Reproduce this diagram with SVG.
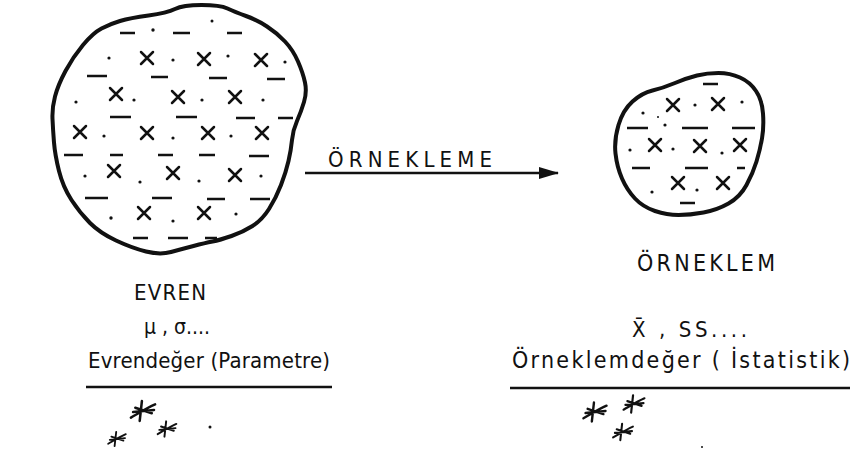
<svg xmlns="http://www.w3.org/2000/svg" xmlns:xlink="http://www.w3.org/1999/xlink" width="852" height="456" viewBox="0 0 852 456">
<style>
.bg{fill:#fff}
.blob{fill:none;stroke:#111;stroke-width:4;stroke-linejoin:round}
.mk{fill:none;stroke:#111;stroke-width:2.5;stroke-linecap:round}
.ds{fill:none;stroke:#111;stroke-width:2.6;stroke-linecap:butt}
.dt{fill:#111}
.ln{fill:none;stroke:#111;stroke-width:2.3}
.st{fill:none;stroke:#111;stroke-width:2.3;stroke-linecap:round;stroke-linejoin:round}
.t{font-family:"DejaVu Sans Condensed","DejaVu Sans","Liberation Sans",sans-serif;font-stretch:condensed;fill:#111}
</style>
<defs>
<path id="xm" d="M-6,-6 L6,6 M6,-6 L-6,6"/>
<path id="star" d="M-11,6 C-4,2 4,-3 11,-6 M-7,-3 L8,2 M-1,-9 L-3,9 M-9,1 L10,-1"/>
<marker id="ah" viewBox="0 0 20 12" refX="19" refY="6" markerWidth="20" markerHeight="12" markerUnits="userSpaceOnUse" orient="auto">
<path d="M0,0 L20,6 L0,12 Z" fill="#111"/>
</marker>
</defs>
<rect class="bg" x="0" y="0" width="852" height="456"/>

<g id="evren">
<path class="blob" d="M175,9 Q183,5 201.5,5 Q220,5 227.5,8.5 Q235,12 246,16 Q257,20 267,26.5 Q277,33 285,41.5 Q293,50 298,61.5 Q303,73 305,82.5 Q307,92 304,102 Q301,112 297,121 Q293,130 292,140 Q291,150 288.5,161 Q286,172 281,185 Q276,198 269,209 Q262,220 252.5,226 Q243,232 231.5,236 Q220,240 212.5,241.5 Q205,243 193.5,246 Q182,249 171,252 Q160,255 146,251.5 Q132,248 116,240.5 Q100,233 90,223 Q80,213 71.5,200 Q63,187 59,171 Q55,155 54,142.5 Q53,130 52.5,119 Q52,108 55,96.5 Q58,85 65.5,71 Q73,57 83,45 Q93,33 101.5,28.5 Q110,24 120,21 Q130,18 148.5,15.5 Q167,13 175,9 Z"/>
<g class="mk">
<use xlink:href="#xm" x="147" y="58"/><use xlink:href="#xm" x="204" y="59"/><use xlink:href="#xm" x="261" y="60"/>
<use xlink:href="#xm" x="116" y="94"/><use xlink:href="#xm" x="178" y="97"/><use xlink:href="#xm" x="235" y="97"/>
<use xlink:href="#xm" x="80" y="132"/><use xlink:href="#xm" x="147" y="133"/><use xlink:href="#xm" x="208" y="133"/><use xlink:href="#xm" x="262" y="133"/>
<use xlink:href="#xm" x="114" y="171"/><use xlink:href="#xm" x="173" y="173"/><use xlink:href="#xm" x="235" y="175"/>
<use xlink:href="#xm" x="144" y="213"/><use xlink:href="#xm" x="204" y="213"/>
</g>
<path class="ds" d="M120,33 H135 M173,33 H190 M227,33 H242 M87,76 H107 M151,77 H168 M209,78 H227 M267,79 H285 M110,117 H131 M176,117 H197 M236,118 H255 M278,118 H293 M64,155 H83 M110,155 H123 M158,155 H173 M199,155 H215 M249,156 H269 M85,198 H108 M152,198 H172 M207,199 H225 M250,199 H270 M133,238 H148 M168,238 H188 M205,238 H217"/>
<g class="dt">
<circle cx="153" cy="30" r="1.7"/><circle cx="212" cy="21" r="1.5"/>
<circle cx="109" cy="58" r="1.6"/><circle cx="173" cy="60" r="1.6"/><circle cx="228" cy="56" r="1.6"/><circle cx="285" cy="62" r="1.6"/>
<circle cx="76" cy="102" r="1.6"/><circle cx="134" cy="100" r="1.6"/><circle cx="202" cy="100" r="1.6"/><circle cx="263" cy="100" r="1.6"/>
<circle cx="104" cy="136" r="1.6"/><circle cx="173" cy="138" r="1.6"/><circle cx="231" cy="136" r="1.6"/>
<circle cx="85" cy="176" r="1.6"/><circle cx="140" cy="182" r="1.6"/><circle cx="199" cy="181" r="1.6"/><circle cx="261" cy="176" r="1.6"/>
<circle cx="111" cy="218" r="1.7"/><circle cx="173" cy="221" r="1.6"/><circle cx="236" cy="214" r="1.6"/>
</g>
<text class="t" x="134" y="300" font-size="22" textLength="72" lengthAdjust="spacing">EVREN</text>
<text class="t" x="144" y="334" font-size="21" textLength="66" lengthAdjust="spacing">μ , σ....</text>
<text class="t" x="88" y="368" font-size="22" textLength="242" lengthAdjust="spacing">Evrendeğer (Parametre)</text>
<path class="ln" d="M86,387 H332"/>
<g class="st">
<use xlink:href="#star" transform="translate(143,411) scale(1.1)"/>
<use xlink:href="#star" transform="translate(167,429) scale(0.85)"/>
<use xlink:href="#star" transform="translate(117,439) scale(0.8)"/>
</g>
<circle class="dt" cx="210" cy="427" r="1.5"/>
</g>

<g id="orneklem">
<path class="blob" d="M697,75.5 Q707,73 718.5,73 Q730,73 740,77.5 Q750,82 756,91 Q762,100 763,113.5 Q764,127 762,138.5 Q760,150 756.5,161.5 Q753,173 746.5,185 Q740,197 728.5,203.5 Q717,210 703.5,212.5 Q690,215 678.5,215 Q667,215 655,211 Q643,207 635,198.5 Q627,190 622,178.5 Q617,167 615.5,153.5 Q614,140 618.5,125 Q623,110 632.5,101.5 Q642,93 652.5,90.5 Q663,88 675,83 Q687,78 697,75.5 Z"/>
<g class="mk">
<use xlink:href="#xm" x="673" y="105"/><use xlink:href="#xm" x="718" y="104"/>
<use xlink:href="#xm" x="655" y="145"/><use xlink:href="#xm" x="700" y="146"/><use xlink:href="#xm" x="740" y="145"/>
<use xlink:href="#xm" x="678" y="183"/><use xlink:href="#xm" x="723" y="183"/>
</g>
<path class="ds" d="M703,84 H718 M627,128 H648 M682,128 H708 M732,128 H755 M632,168 H650 M685,168 H708 M737,168 H745 M680,203 H695"/>
<g class="dt">
<circle cx="643" cy="113" r="1.6"/><circle cx="658" cy="117" r="1"/><circle cx="695" cy="105" r="1.6"/><circle cx="742" cy="102" r="1.6"/><circle cx="665" cy="125" r="1.6"/>
<circle cx="630" cy="150" r="1.6"/><circle cx="673" cy="149" r="1.6"/><circle cx="722" cy="153" r="1.6"/>
<circle cx="652" cy="192" r="1.6"/><circle cx="697" cy="190" r="1.6"/>
</g>
<text class="t" x="637" y="271" font-size="23" textLength="138" lengthAdjust="spacing">ÖRNEKLEM</text>
<text class="t" x="632" y="337" font-size="22" textLength="115" lengthAdjust="spacing">X̄ , SS....</text>
<text class="t" x="512" y="368" font-size="23" textLength="338" lengthAdjust="spacing">Örneklemdeğer ( İstatistik)</text>
<path class="ln" d="M510,388 H850"/>
<g class="st">
<use xlink:href="#star" transform="translate(595,412) scale(1.05)"/>
<use xlink:href="#star" transform="translate(634,404) scale(0.95)"/>
<use xlink:href="#star" transform="translate(623,432) scale(0.9)"/>
</g>
<circle class="dt" cx="702" cy="447" r="1"/>
</g>

<g id="connectors">
<path class="ln" d="M305,173 H558" marker-end="url(#ah)"/>
<text class="t" x="328" y="167" font-size="22" textLength="164" lengthAdjust="spacing">ÖRNEKLEME</text>
</g>
</svg>
